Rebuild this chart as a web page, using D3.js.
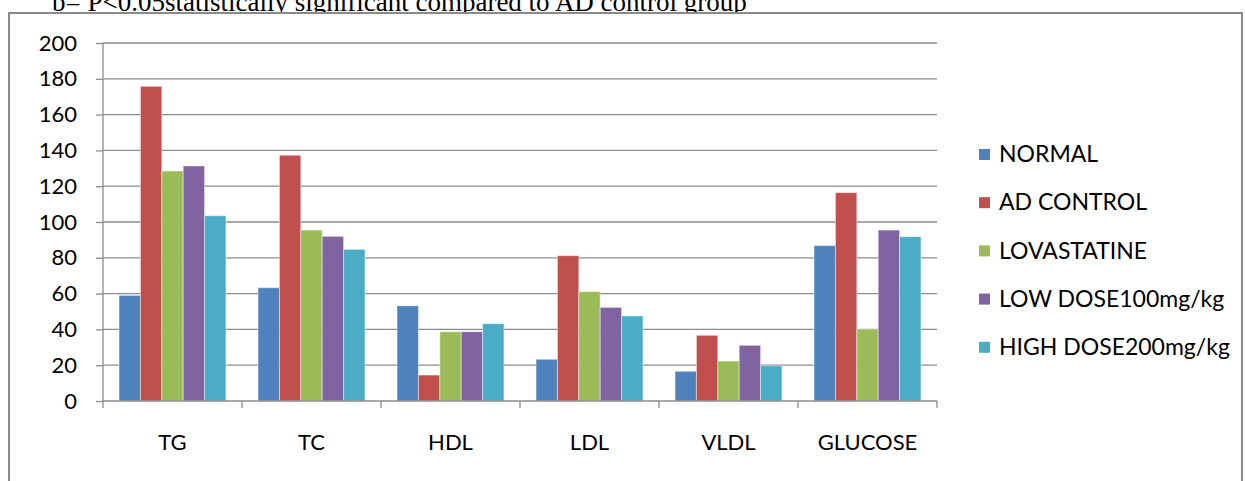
<!DOCTYPE html>
<html>
<head>
<meta charset="utf-8">
<script src="https://cdn.jsdelivr.net/npm/d3@7"></script>
<style>
  body { margin: 0; background: #fff; }
  text { font-family: Lato, "Open Sans", sans-serif; fill: #000; }
</style>
</head>
<body>
<div id="chart"></div>
<script>
// Data
var categories = ["TG", "TC", "HDL", "LDL", "VLDL", "GLUCOSE"];
var groups = ["NORMAL", "AD CONTROL", "LOVASTATINE", "LOW DOSE100mg/kg", "HIGH DOSE200mg/kg"];
var normal = [59, 63.3, 53.2, 23.3, 16.6, 86.8];
var adControl = [175.8, 137.3, 14.5, 81.2, 36.7, 116.4];
var lovastatine = [128.5, 95.5, 38.7, 61.1, 22.3, 40.2];
var lowDose = [131.3, 92, 38.7, 52.3, 31.1, 95.5];
var highDose = [103.5, 84.7, 43.2, 47.5, 19.7, 91.8];
var yTicks = [0, 20, 40, 60, 80, 100, 120, 140, 160, 180, 200];
var colors = ["#4F81BD", "#C0504D", "#9BBB59", "#8064A2", "#4BACC6"];

var seriesValues = [normal, adControl, lovastatine, lowDose, highDose];

var svgWidth = 1245;
var svgHeight = 481;

var svg = d3.select("#chart")
  .append("svg")
  .attr("width", svgWidth)
  .attr("height", svgHeight);

// Caption text, cut off at the top like in the picture
svg.append("text")
  .attr("x", 52)
  .attr("y", 11)
  .style("font-family", "'Liberation Serif', 'Times New Roman', serif")
  .style("font-size", "27px")
  .text("b= P<0.05statistically significant compared to AD control group");

// Chart frame
svg.append("rect")
  .attr("x", 9)
  .attr("y", 13)
  .attr("width", 1233)
  .attr("height", 480)
  .attr("fill", "#fff")
  .attr("stroke", "#8a8a8a")
  .attr("stroke-width", 2);

var plot = { left: 103, right: 937, top: 43, bottom: 401 };

var x = d3.scaleBand()
  .domain(categories)
  .range([plot.left, plot.right]);

var barW = x.bandwidth() / 6.5;

var xInner = d3.scaleBand()
  .domain(groups)
  .range([0.75 * barW, x.bandwidth() - 0.75 * barW]);

var y = d3.scaleLinear()
  .domain([0, 200])
  .range([plot.bottom, plot.top]);

// Gridlines
svg.append("g")
  .selectAll("line")
  .data(yTicks.slice(1))
  .enter()
  .append("line")
  .attr("x1", plot.left)
  .attr("x2", plot.right)
  .attr("y1", d => y(d))
  .attr("y2", d => y(d))
  .attr("stroke", "#8c8c8c")
  .attr("stroke-width", 1.3);

// Bars
categories.forEach(function (cat, ci) {
  var g = svg.append("g").attr("transform", `translate(${x(cat)},0)`);
  g.selectAll("rect")
    .data(groups)
    .enter()
    .append("rect")
    .attr("x", d => xInner(d))
    .attr("width", xInner.bandwidth())
    .attr("y", (d, i) => y(seriesValues[i][ci]))
    .attr("height", (d, i) => y(0) - y(seriesValues[i][ci]))
    .attr("fill", (d, i) => colors[i])
    .attr("stroke", "rgba(255,255,255,0.45)")
    .attr("stroke-width", 1);
});

// Y axis
var yAxis = svg.append("g")
  .attr("transform", `translate(${plot.left},0)`)
  .call(d3.axisLeft(y).tickValues(yTicks).tickSize(7).tickPadding(19));
yAxis.selectAll("text").style("font-size", "22px").style("font-family", "Lato, sans-serif");
yAxis.selectAll("line, path").attr("stroke", "#8c8c8c").attr("stroke-width", 1.3);
yAxis.select(".domain").attr("d", `M0,${plot.top}V${plot.bottom}`);

// X axis
var xAxis = svg.append("g")
  .attr("transform", `translate(0,${plot.bottom})`)
  .call(d3.axisBottom(x).tickSize(0).tickPadding(33));
xAxis.selectAll("text").style("font-size", "22px").style("font-family", "Lato, sans-serif");
xAxis.select(".domain").attr("stroke", "#8c8c8c").attr("stroke-width", 1.3)
  .attr("d", `M${plot.left},0H${plot.right}`);
xAxis.selectAll(".sep")
  .data(d3.range(categories.length + 1))
  .enter()
  .append("line")
  .attr("class", "sep")
  .attr("x1", i => plot.left + i * x.step())
  .attr("x2", i => plot.left + i * x.step())
  .attr("y1", 0)
  .attr("y2", 7)
  .attr("stroke", "#8c8c8c")
  .attr("stroke-width", 1.3);

// Legend
var legend = svg.append("g")
  .selectAll("g")
  .data(groups)
  .enter()
  .append("g")
  .attr("transform", (d, i) => `translate(979,${154 + i * 48.2})`);

legend.append("rect")
  .attr("x", 0)
  .attr("y", -5)
  .attr("width", 11)
  .attr("height", 11)
  .attr("fill", (d, i) => colors[i]);

legend.append("text")
  .attr("x", 20)
  .attr("y", 0)
  .attr("dy", "0.36em")
  .style("font-size", "23px")
  .text(d => d);
</script>
</body>
</html>
